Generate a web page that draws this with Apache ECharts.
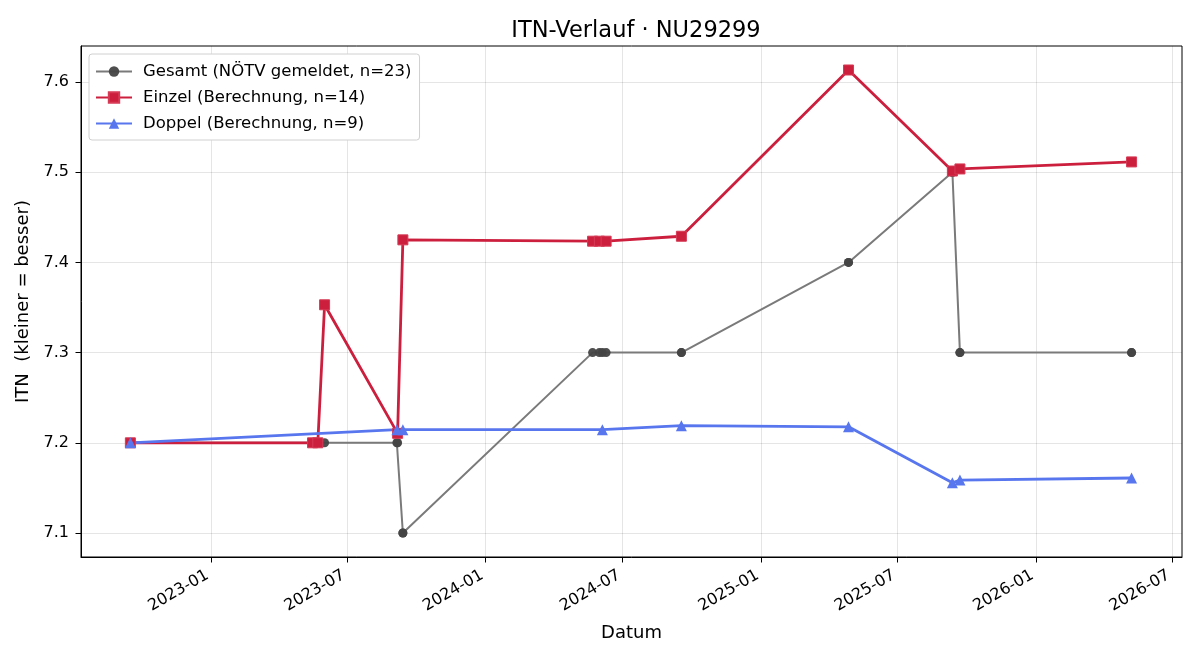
<!DOCTYPE html>
<html lang="de">
<head>
    <meta charset="UTF-8">
    <title>ITN-Verlauf</title>
    <script src="https://cdn.jsdelivr.net/npm/echarts@6/dist/echarts.min.js"></script>
</head>
<body style="margin:0">
    <div id="chart" style="width: 1200px;height: 660px"></div>
<script>
    // Daten
    var gesamtDates = ['2022-09-16', '2022-09-16', '2023-05-16', '2023-05-23', '2023-06-01',
        '2023-09-05', '2023-09-06', '2023-09-13', '2023-09-13',
        '2024-05-22', '2024-05-31', '2024-06-04', '2024-06-09',
        '2024-09-17', '2024-09-17', '2025-04-27', '2025-04-27',
        '2025-09-12', '2025-09-12', '2025-09-22', '2025-09-22', '2026-05-08', '2026-05-08'];
    var gesamtValues = [7.2, 7.2, 7.2, 7.2, 7.2,
        7.2, 7.2, 7.1, 7.1,
        7.3, 7.3, 7.3, 7.3,
        7.3, 7.3, 7.4, 7.4,
        7.5, 7.5, 7.3, 7.3, 7.3, 7.3];

    var einzelDates = ['2022-09-16', '2023-05-16', '2023-05-23', '2023-06-01', '2023-09-06', '2023-09-13',
        '2024-05-22', '2024-05-31', '2024-06-09', '2024-09-17', '2025-04-27', '2025-09-12', '2025-09-22', '2026-05-08'];
    var einzelValues = [7.2, 7.2, 7.2, 7.353, 7.2105, 7.425,
        7.4235, 7.4235, 7.4235, 7.429, 7.6133, 7.5013, 7.5036, 7.5114];

    var doppelDates = ['2022-09-16', '2023-09-05', '2023-09-13', '2024-06-04', '2024-09-17',
        '2025-04-27', '2025-09-12', '2025-09-22', '2026-05-08'];
    var doppelValues = [7.2, 7.2145, 7.2145, 7.2145, 7.219, 7.2177, 7.1557, 7.1587, 7.161];

    var xTicks = ['2023-01-01', '2023-07-01', '2024-01-01', '2024-07-01',
        '2025-01-01', '2025-07-01', '2026-01-01', '2026-07-01'];
    var yTicks = [7.1, 7.2, 7.3, 7.4, 7.5, 7.6];

    function ts(s) {
        var p = s.split('-');
        return Date.UTC(+p[0], +p[1] - 1, +p[2]);
    }
    function pairs(dates, values) {
        return dates.map(function (d, i) { return [ts(d), values[i]]; });
    }

    var font = 'DejaVu Sans';
    var chart = echarts.init(document.getElementById('chart'));
    var option = {
        animation: false,
        backgroundColor: '#fff',
        textStyle: { fontFamily: font },
        title: {
            text: 'ITN-Verlauf · NU29299',
            left: 631,
            top: 15,
            textAlign: 'center',
            textStyle: { fontFamily: font, fontSize: 22.5, fontWeight: 'normal', color: '#000' }
        },
        legend: {
            orient: 'vertical',
            left: 89,
            top: 54,
            padding: [9, 8, 8, 6],
            itemWidth: 36,
            itemHeight: 13,
            itemGap: 9,
            backgroundColor: '#fff',
            borderColor: '#d0d0d0',
            borderWidth: 1,
            borderRadius: 3,
            textStyle: { fontFamily: font, fontSize: 16.5, color: '#000', padding: [0, 0, 0, 6] },
            data: ['Gesamt (NÖTV gemeldet, n=23)', 'Einzel (Berechnung, n=14)', 'Doppel (Berechnung, n=9)']
        },
        grid: {
            left: 81,
            right: 18,
            top: 46,
            bottom: 103,
            show: true,
            borderColor: '#000',
            borderWidth: 1,
            backgroundColor: 'transparent'
        },
        xAxis: {
            type: 'value',
            min: Date.UTC(2022, 6, 12, 10),
            max: Date.UTC(2026, 6, 14),
            name: 'Datum',
            nameLocation: 'middle',
            nameGap: 67,
            nameTextStyle: { fontFamily: font, fontSize: 18, color: '#000' },
            axisLine: { show: true, onZero: false, lineStyle: { color: '#000', width: 1 } },
            axisTick: { show: true, length: 5.5, lineStyle: { color: '#000' }, customValues: xTicks.map(ts) },
            axisLabel: {
                customValues: xTicks.map(ts),
                rotate: 30,
                margin: 15,
                padding: [0, 4, 0, 0],
                fontFamily: font,
                fontSize: 16,
                color: '#000',
                formatter: function (v) {
                    var d = new Date(v);
                    var m = d.getUTCMonth() + 1;
                    return d.getUTCFullYear() + '-' + (m < 10 ? '0' + m : m);
                }
            },
            splitLine: { show: true, lineStyle: { color: '#000', opacity: 0.1, width: 1 } }
        },
        yAxis: {
            type: 'value',
            min: 7.0734,
            max: 7.6399,
            name: 'ITN  (kleiner = besser)',
            nameLocation: 'middle',
            nameGap: 46,
            nameTextStyle: { fontFamily: font, fontSize: 18, color: '#000' },
            axisLine: { show: true, onZero: false, lineStyle: { color: '#000', width: 1 } },
            axisTick: { show: true, length: 5.5, lineStyle: { color: '#000' }, customValues: yTicks },
            axisLabel: {
                customValues: yTicks,
                margin: 12,
                fontFamily: font,
                fontSize: 16,
                color: '#000',
                formatter: function (v) { return (+v).toFixed(1); }
            },
            splitLine: { show: true, lineStyle: { color: '#000', opacity: 0.1, width: 1 } }
        },
        series: [
            {
                name: 'Gesamt (NÖTV gemeldet, n=23)',
                type: 'line',
                data: pairs(gesamtDates, gesamtValues),
                symbol: 'circle',
                symbolSize: 9,
                showAllSymbol: true,
                lineStyle: { color: '#7a7a7a', width: 2 },
                itemStyle: { color: '#454545', opacity: 0.95 }
            },
            {
                name: 'Einzel (Berechnung, n=14)',
                type: 'line',
                data: pairs(einzelDates, einzelValues),
                symbol: 'rect',
                symbolSize: 10,
                showAllSymbol: true,
                lineStyle: { color: '#cc1f3e', width: 2.8 },
                itemStyle: { color: '#cc1f3e', borderColor: '#d63a55', borderWidth: 1 }
            },
            {
                name: 'Doppel (Berechnung, n=9)',
                type: 'line',
                data: pairs(doppelDates, doppelValues),
                symbol: 'triangle',
                symbolSize: 11,
                showAllSymbol: true,
                lineStyle: { color: '#5876ee', width: 2.8 },
                itemStyle: { color: '#5876ee' }
            }
        ]
    };
    chart.setOption(option);
</script>
</body>
</html>
